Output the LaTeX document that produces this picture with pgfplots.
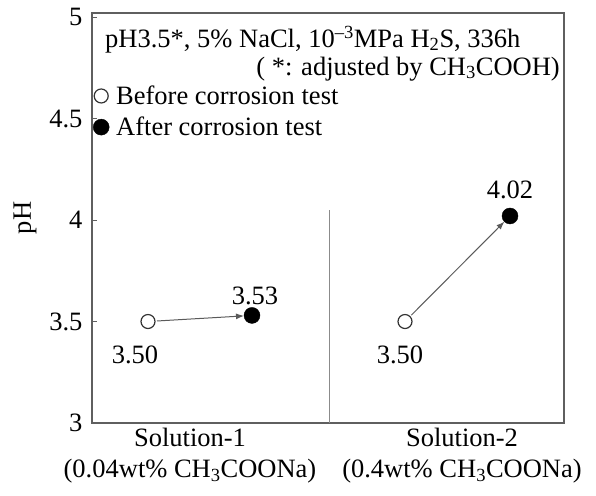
\documentclass[border=0pt]{standalone}
\usepackage{fontspec}
\setmainfont{Liberation Serif}
\usepackage{pgfplots}
\pgfplotsset{compat=1.18}
\usetikzlibrary{arrows.meta}
\definecolor{axgray}{RGB}{95,95,95}
\definecolor{lngray}{RGB}{90,90,90}
\newcommand{\fs}{\fontsize{26.5}{31}\selectfont\rmfamily}
\begin{document}
\begin{tikzpicture}[x=1pt,y=1pt]
\useasboundingbox (0,0) rectangle (596,495);
\begin{axis}[
  at={(92pt,72pt)}, anchor=south west,
  scale only axis, width=472pt, height=410pt,
  xmin=0, xmax=4.72, ymin=3, ymax=5.02,
  axis line style={axgray, line width=2.5pt},
  ytick={3,3.5,4,4.5,5},
  yticklabels={3,3.5,4,4.5,5},
  ytick pos=left, tick align=inside,
  major tick length=5pt,
  ytick style={axgray, line width=1pt},
  xtick={0.98,3.70},
  xticklabels={Solution-1\\(0.04wt\% CH\textsubscript{3}COONa),Solution-2\\(0.4wt\% CH\textsubscript{3}COONa)},
  xticklabel style={align=center, font=\fs, yshift=-2pt},
  xtick style={draw=none},
  yticklabel style={font=\fs, xshift=-6pt},
  ylabel={pH}, ylabel style={font=\fs, xshift=0pt, yshift=6pt},
  /pgf/number format/assume math mode=true,
  legend style={at={(rel axis cs:0.0,0.830)}, anchor=north west, draw=none, fill=none,
    font=\fs, row sep=7pt, inner sep=1pt,
    /tikz/every odd column/.append style={column sep=5pt}},
  legend cell align=left,
  clip=false,
]
\addplot[lngray!70, line width=0.6pt, forget plot] coordinates {(2.37,3) (2.37,4.05)};
\addplot[lngray, line width=1pt, -{Latex[length=8pt,width=6pt]}, shorten <=9pt, shorten >=8pt, forget plot] coordinates {(0.56,3.50) (1.60,3.53)};
\addplot[lngray, line width=1pt, -{Latex[length=8pt,width=6pt]}, shorten <=9pt, shorten >=8pt, forget plot] coordinates {(3.13,3.50) (4.18,4.02)};
\addplot[only marks, mark=o, mark size=7pt, mark options={line width=1.2pt, draw=black!80}] coordinates {(0.56,3.50) (3.13,3.50)};
\addplot[only marks, mark=*, mark size=8pt, mark options={fill=black, draw=black}] coordinates {(1.60,3.53) (4.18,4.02)};
\legend{Before corrosion test, After corrosion test}
\node[font=\fs] at (axis cs:0.43,3.335) {3.50};
\node[font=\fs] at (axis cs:3.08,3.335) {3.50};
\node[font=\fs] at (axis cs:1.63,3.625) {3.53};
\node[font=\fs] at (axis cs:4.18,4.15) {4.02};
\node[font=\fs, anchor=west, inner sep=0pt] at (axis cs:0.13,4.89) {pH3.5*, 5\% NaCl, 10\textsuperscript{--3}MPa H\textsubscript{2}S, 336h};
\node[font=\fs, anchor=east, inner sep=0pt] at (axis cs:4.68,4.745) {( *: adjusted by CH\textsubscript{3}COOH)};
\end{axis}
\end{tikzpicture}
\end{document}
